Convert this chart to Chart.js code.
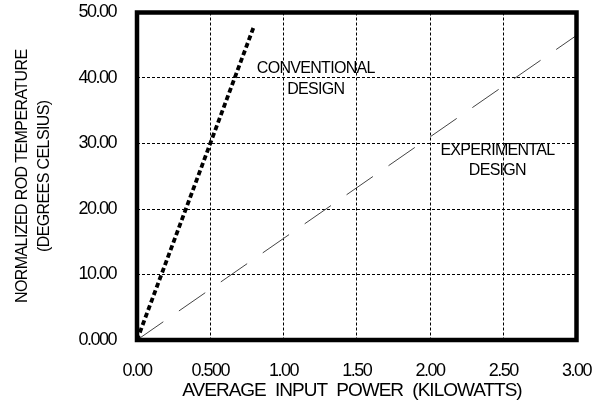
<!DOCTYPE html>
<html><head><meta charset="utf-8">
<script src="https://cdn.jsdelivr.net/npm/chart.js@4"></script>
<style>html,body{margin:0;padding:0;background:#fff;overflow:hidden}</style>
</head><body>
<canvas id="c" width="601" height="402"></canvas>
<script>
// ---- data ----
const xTickLabels = ['0.00', '0.500', '1.00', '1.50', '2.00', '2.50', '3.00'];
const yTickLabels = ['0.000', '10.00', '20.00', '30.00', '40.00', '50.00'];
const conventionalPower = [0, 0.80];
const conventionalTemp  = [0, 48.0];
const experimentalPower = [0, 3.00];
const experimentalTemp  = [0, 46.5];
const xAxisTitle = 'AVERAGE INPUT POWER (KILOWATTS)';
const yAxisTitle = ['NORMALIZED ROD TEMPERATURE', '(DEGREES CELSIUS)'];
const conventionalLabel = ['CONVENTIONAL', 'DESIGN'];
const experimentalLabel = ['EXPERIMENTAL', 'DESIGN'];

// ---- font detection ----
const probe = document.createElement('canvas').getContext('2d');
probe.font = '20px "Liberation Sans Narrow", monospace';
const wN = probe.measureText('ABCDEFG 0123').width;
probe.font = '20px monospace';
const wM = probe.measureText('ABCDEFG 0123').width;
const hasNarrow = Math.abs(wN - wM) > 0.5;

const tickFont = hasNarrow
  ? {family: '"Liberation Sans Narrow"', size: 19}
  : {family: '"Liberation Sans", Arial, sans-serif', size: 18};
const tickSpacing = hasNarrow ? '0px' : '-1.5px';

const toPts = (xs, ys) => xs.map((x, i) => ({x: x, y: ys[i]}));
const zeroPad = (s) => { s.paddingTop = 0; s.paddingBottom = 0; s.paddingLeft = 0; s.paddingRight = 0; };

const framePlugin = {
  id: 'frame',
  beforeDraw(chart) { chart.ctx.letterSpacing = tickSpacing; },
  afterDatasetsDraw(chart) {
    const {ctx, chartArea: a} = chart;
    ctx.save();
    ctx.strokeStyle = '#000';
    ctx.lineWidth = 4.5;
    ctx.strokeRect(a.left, a.top, a.right - a.left, a.bottom - a.top);
    ctx.restore();
  },
  afterDraw(chart) {
    const {ctx} = chart;
    const xs = chart.scales.x, ys = chart.scales.y;
    ctx.save();
    ctx.fillStyle = '#000';
    ctx.textAlign = 'center';
    ctx.textBaseline = 'middle';
    // series annotations
    ctx.font = '16px "Liberation Sans", Arial, sans-serif';
    ctx.letterSpacing = '-0.7px';
    const notes = [
      {lines: conventionalLabel, x: 1.22, y: [41.4, 38.2]},
      {lines: experimentalLabel, x: 2.46, y: [28.9, 25.8]}
    ];
    notes.forEach(n => n.lines.forEach((t, i) => {
      ctx.fillText(t, xs.getPixelForValue(n.x), ys.getPixelForValue(n.y[i]));
    }));
    // x title
    if (hasNarrow) {
      ctx.font = '21px "Liberation Sans Narrow"';
      ctx.letterSpacing = '0px';
      ctx.wordSpacing = '5px';
    } else {
      ctx.font = '19px "Liberation Sans", Arial, sans-serif';
      ctx.letterSpacing = '-1px';
      ctx.wordSpacing = '5px';
    }
    ctx.fillText(xAxisTitle, 352, 391);
    ctx.wordSpacing = '0px';
    // y title
    ctx.font = '16px "Liberation Sans", Arial, sans-serif';
    ctx.letterSpacing = '-0.6px';
    const cy = (chart.chartArea.top + chart.chartArea.bottom) / 2;
    [22.5, 44.2].forEach((px, i) => {
      ctx.save();
      ctx.translate(px, cy);
      ctx.rotate(-Math.PI / 2);
      ctx.fillText(yAxisTitle[i], 0, 0);
      ctx.restore();
    });
    ctx.restore();
  }
};

new Chart(document.getElementById('c'), {
  type: 'scatter',
  data: {
    datasets: [
      {
        label: 'Conventional design',
        data: toPts(conventionalPower, conventionalTemp),
        showLine: true,
        borderColor: '#000',
        borderWidth: 3.8,
        borderDash: [5, 3],
        pointRadius: 0,
        fill: false
      },
      {
        label: 'Experimental design',
        data: toPts(experimentalPower, experimentalTemp),
        showLine: true,
        borderColor: '#444',
        borderWidth: 1,
        borderDash: [32, 19],
        pointRadius: 0,
        fill: false
      }
    ]
  },
  options: {
    responsive: false,
    devicePixelRatio: 1,
    animation: false,
    layout: {padding: {left: 0, right: 24.5, top: 12.5, bottom: 0}},
    plugins: {legend: {display: false}, tooltip: {enabled: false}},
    scales: {
      x: {
        type: 'linear', min: 0, max: 3,
        afterFit(s) { s.height = 62; zeroPad(s); },
        ticks: {
          stepSize: 0.5, padding: 20, color: '#000', font: tickFont, maxRotation: 0,
          callback: (v) => xTickLabels[Math.round(v / 0.5)]
        },
        grid: {color: '#000', lineWidth: 1, drawTicks: false},
        border: {display: false, dash: [3, 2]}
      },
      y: {
        type: 'linear', min: 0, max: 50,
        afterFit(s) { s.width = 137; zeroPad(s); },
        ticks: {
          stepSize: 10, padding: 21, color: '#000', font: tickFont,
          callback: (v) => yTickLabels[Math.round(v / 10)]
        },
        grid: {color: '#000', lineWidth: 1, drawTicks: false},
        border: {display: false, dash: [3, 2]}
      }
    }
  },
  plugins: [framePlugin]
});
</script>
</body></html>
